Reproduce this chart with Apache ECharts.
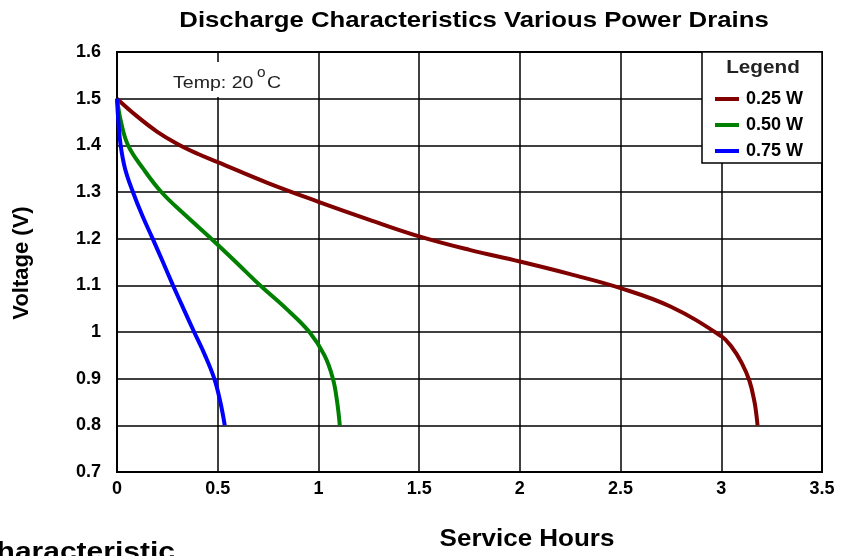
<!DOCTYPE html>
<html>
<head>
<meta charset="utf-8">
<script src="https://cdn.jsdelivr.net/npm/echarts@6/dist/echarts.min.js"></script>
<style>html,body{margin:0;padding:0;background:#fff}#c{width:857px;height:556px}</style>
</head>
<body>
<div id="c"></div>
<script>
var seriesNames = ['0.25 W', '0.50 W', '0.75 W'];
var seriesColors = ['#800000', '#008000', '#0000ff'];

var hours025 = [0, 0.1, 0.2, 0.3, 0.4, 0.5, 0.75, 1.0, 1.25, 1.5, 1.75, 2.0, 2.25, 2.5, 2.75, 3.0, 3.05, 3.1, 3.14, 3.165, 3.175, 3.18];
var volts025 = [1.5, 1.462, 1.429, 1.403, 1.382, 1.364, 1.319, 1.279, 1.241, 1.205, 1.176, 1.151, 1.124, 1.094, 1.054, 0.991, 0.969, 0.935, 0.895, 0.85, 0.82, 0.80];

var hours050 = [0, 0.02, 0.055, 0.13, 0.22, 0.34, 0.468, 0.59, 0.71, 0.84, 0.955, 1.03, 1.072, 1.093, 1.106];
var volts050 = [1.5, 1.45, 1.4, 1.35, 1.3, 1.25, 1.2, 1.15, 1.1, 1.05, 1.0, 0.95, 0.9, 0.85, 0.8];

var hours075 = [0, 0.007, 0.018, 0.04, 0.079, 0.125, 0.177, 0.228, 0.278, 0.33, 0.383, 0.437, 0.483, 0.513, 0.535];
var volts075 = [1.5, 1.45, 1.4, 1.35, 1.3, 1.25, 1.2, 1.15, 1.1, 1.05, 1.0, 0.95, 0.9, 0.85, 0.8];

var xMin = 0, xMax = 3.5, xStep = 0.5;
var yMin = 0.7, yMax = 1.6, yStep = 0.1;

function zip(a, b) { return a.map(function (v, i) { return [v, b[i]]; }); }
var allData = [zip(hours025, volts025), zip(hours050, volts050), zip(hours075, volts075)];

var chart = echarts.init(document.getElementById('c'), null, {renderer: 'canvas'});
var F = '"Liberation Sans", Arial, sans-serif';

var option = {
  animation: false,
  backgroundColor: '#fff',
  grid: {left: 117, right: 35, top: 52, bottom: 84, show: true, borderColor: '#000', borderWidth: 2, backgroundColor: 'transparent'},
  xAxis: {
    type: 'value', min: xMin, max: xMax, interval: xStep,
    axisLine: {show: true, lineStyle: {color: '#000', width: 2}},
    axisTick: {show: false},
    splitLine: {show: true, lineStyle: {color: '#000', width: 1.5}},
    axisLabel: {color: '#000', fontFamily: F, fontWeight: 'bold', fontSize: 18, margin: 8,
      formatter: function (v) { return String(+v.toFixed(1)); }}
  },
  yAxis: {
    type: 'value', min: yMin, max: yMax, interval: yStep,
    axisLine: {show: true, lineStyle: {color: '#000', width: 2}},
    axisTick: {show: false},
    splitLine: {show: true, lineStyle: {color: '#000', width: 1.5}},
    axisLabel: {color: '#000', fontFamily: F, fontWeight: 'bold', fontSize: 18, margin: 16,
      formatter: function (v) { return String(+v.toFixed(1)); }}
  },
  legend: {
    show: true, orient: 'vertical', left: 710, top: 84, z: 20,
    icon: 'rect', itemWidth: 24, itemHeight: 4, itemGap: 6,
    textStyle: {color: '#000', fontFamily: F, fontWeight: 'bold', fontSize: 18, lineHeight: 20, padding: [0, 0, 0, 2]},
    data: seriesNames
  },
  series: seriesNames.map(function (n, i) {
    return {
      name: n, type: 'line', data: allData[i], showSymbol: false, symbol: 'none',
      smooth: 0.4,
      lineStyle: {color: seriesColors[i], width: 4}, itemStyle: {color: seriesColors[i]}, z: 3
    };
  }),
  graphic: [
    {type: 'rect', z: 15, shape: {x: 702, y: 52, width: 120, height: 111}, style: {fill: '#fff', stroke: '#000', lineWidth: 1.5}},
    {type: 'text', z: 25, x: 763, y: 68, scaleX: 1.15, style: {text: 'Legend', fill: '#222', font: 'bold 18px ' + F, textAlign: 'center', textVerticalAlign: 'middle'}},
    {type: 'rect', z: 15, shape: {x: 165, y: 62, width: 128, height: 35}, style: {fill: '#fff'}},
    {type: 'text', z: 25, x: 173, y: 83, scaleX: 1.15, style: {text: 'Temp: 20', fill: '#222', font: '17px ' + F, textAlign: 'left', textVerticalAlign: 'middle'}},
    {type: 'text', z: 25, x: 257, y: 73, scaleX: 1.1, style: {text: 'o', fill: '#222', font: '14px ' + F, textAlign: 'left', textVerticalAlign: 'middle'}},
    {type: 'text', z: 25, x: 267, y: 83, scaleX: 1.15, style: {text: 'C', fill: '#222', font: '17px ' + F, textAlign: 'left', textVerticalAlign: 'middle'}},
    {type: 'text', z: 25, x: 474, y: 21, scaleX: 1.17, style: {text: 'Discharge Characteristics Various Power Drains', fill: '#000', font: 'bold 22px ' + F, textAlign: 'center', textVerticalAlign: 'middle'}},
    {type: 'text', z: 25, x: 527, y: 540, scaleX: 1.13, style: {text: 'Service Hours', fill: '#000', font: 'bold 23px ' + F, textAlign: 'center', textVerticalAlign: 'middle'}},
    {type: 'text', z: 25, x: 22, y: 263, rotation: Math.PI / 2, style: {text: 'Voltage (V)', fill: '#000', font: 'bold 22px ' + F, textAlign: 'center', textVerticalAlign: 'middle'}},
    {type: 'text', z: 25, x: 175, y: 566, scaleX: 1.2, style: {text: 'Characteristic', fill: '#000', font: 'bold 25px ' + F, textAlign: 'right', textVerticalAlign: 'bottom'}}
  ]
};
chart.setOption(option);
</script>
</body>
</html>
